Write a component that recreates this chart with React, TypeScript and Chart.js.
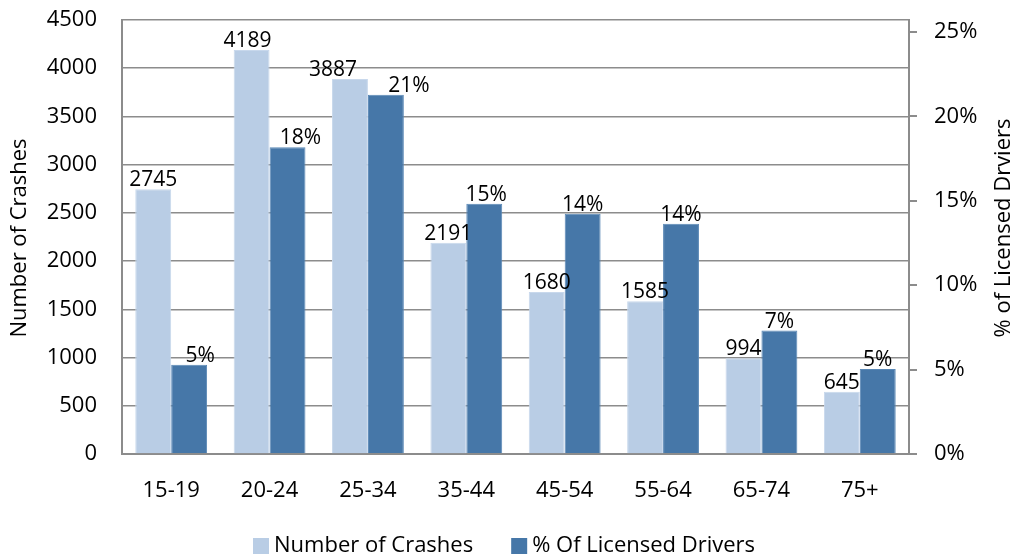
import React, { useEffect, useRef } from "react";
import { Chart, registerables } from "chart.js";

Chart.register(...registerables);

const categories = ["15-19", "20-24", "25-34", "35-44", "45-54", "55-64", "65-74", "75+"];
const crashes = [2745, 4189, 3887, 2191, 1680, 1585, 994, 645];
const licensedPct = [5.28, 18.16, 21.28, 14.82, 14.23, 13.63, 7.31, 5.04];
const leftTicks = [0, 500, 1000, 1500, 2000, 2500, 3000, 3500, 4000, 4500];
const rightTicks = [0, 5, 10, 15, 20, 25];
const seriesNames = ["Number of Crashes", "% Of Licensed Drivers"];
const seriesColors = ["#b9cde5", "#4677a8"];

// horizontal nudges for a few value labels (as placed in the original)
const LABEL_NUDGE = [
  [0, -4, -17, 0, 0, 0, 0, 0],
  [11, 13, 23, 2, 0, 0, 0, 0],
];

const FONT = "'Open Sans', sans-serif";
const GRID = "#8c8c8c";

const labelsPlugin = {
  id: "barLabels",
  afterDatasetsDraw(chart: any) {
    const ctx = chart.ctx;
    ctx.save();
    ctx.font = `21px ${FONT}`;
    ctx.fillStyle = "#000";
    ctx.textAlign = "center";
    ctx.textBaseline = "alphabetic";
    chart.data.datasets.forEach((ds: any, di: number) => {
      const meta = chart.getDatasetMeta(di);
      meta.data.forEach((el: any, i: number) => {
        const v = ds.data[i];
        const txt = di === 0 ? String(v) : `${Math.round(v)}%`;
        ctx.fillText(txt, el.x + LABEL_NUDGE[di][i], el.y - 3);
      });
    });
    ctx.restore();
  },
};

const titlesPlugin = {
  id: "axisTitles",
  afterDraw(chart: any) {
    const ctx = chart.ctx;
    const drawRot = (text: string, x: number, y: number) => {
      ctx.save();
      ctx.font = `22px ${FONT}`;
      ctx.fillStyle = "#000";
      ctx.textAlign = "center";
      ctx.textBaseline = "middle";
      ctx.translate(x, y);
      ctx.rotate(-Math.PI / 2);
      ctx.fillText(text, 0, 0);
      ctx.restore();
    };
    drawRot("Number of Crashes", 20, 238);
    drawRot("% of Licensed Drviers", 1004, 228);

    // legend
    ctx.save();
    ctx.font = `22px ${FONT}`;
    ctx.textBaseline = "middle";
    ctx.textAlign = "left";
    let x = 253;
    const cy = 546;
    seriesNames.forEach((name, i) => {
      ctx.fillStyle = seriesColors[i];
      ctx.fillRect(x, cy - 8, 16, 16);
      ctx.fillStyle = "#000";
      ctx.fillText(name, x + 21, cy);
      x += 21 + ctx.measureText(name).width + 38;
    });
    ctx.restore();
  },
};

export default function App() {
  const ref = useRef<HTMLCanvasElement>(null);
  useEffect(() => {
    document.body.style.margin = "0";
    const chart = new Chart(ref.current as HTMLCanvasElement, {
      type: "bar",
      data: {
        labels: categories,
        datasets: [
          {
            label: seriesNames[0],
            data: crashes,
            backgroundColor: seriesColors[0],
            borderColor: "#c8d8ec",
            borderWidth: 1,
            yAxisID: "y",
            categoryPercentage: 0.73,
            barPercentage: 1,
          },
          {
            label: seriesNames[1],
            data: licensedPct,
            backgroundColor: seriesColors[1],
            borderColor: "#5a88b6",
            borderWidth: 1,
            yAxisID: "y1",
            categoryPercentage: 0.73,
            barPercentage: 1,
          },
        ],
      },
      options: {
        responsive: false,
        animation: false,
        devicePixelRatio: 1,
        layout: { padding: { top: 20, left: 0, right: 0, bottom: 0 } },
        plugins: {
          tooltip: { enabled: false },
          legend: { display: false },
        },
        scales: {
          x: {
            grid: { display: false, drawTicks: false },
            border: { display: true, color: GRID, width: 2 },
            ticks: { color: "#000", font: { family: FONT, size: 22 }, padding: 24 },
            afterFit(scale: any) {
              scale.height = 102;
              scale.paddingLeft = 0;
              scale.paddingRight = 0;
            },
          },
          y: {
            position: "left",
            min: 0,
            max: 4500,
            afterBuildTicks(scale: any) {
              scale.ticks = leftTicks.map((v) => ({ value: v }));
            },
            grid: { color: GRID, lineWidth: 1.5, drawTicks: false },
            border: { color: GRID, width: 2 },
            ticks: {
              color: "#000",
              font: { family: FONT, size: 22 },
              padding: 25,
              callback: (v: any) => String(v),
            },
            afterFit(scale: any) {
              scale.width = 122;
              scale.paddingTop = 0;
              scale.paddingBottom = 0;
            },
          },
          y1: {
            position: "right",
            min: 0,
            max: 25.7,
            afterBuildTicks(scale: any) {
              scale.ticks = rightTicks.map((v) => ({ value: v }));
            },
            grid: { drawOnChartArea: false, color: GRID, lineWidth: 2, tickLength: 8 },
            border: { color: GRID, width: 2 },
            ticks: {
              color: "#000",
              font: { family: FONT, size: 22 },
              padding: 17,
              callback: (v: any) => `${v}%`,
            },
            afterFit(scale: any) {
              scale.width = 107;
              scale.paddingTop = 0;
              scale.paddingBottom = 0;
            },
          },
        },
      },
      plugins: [labelsPlugin, titlesPlugin],
    } as any);
    return () => chart.destroy();
  }, []);
  return <canvas ref={ref} width={1016} height={556} style={{ display: "block" }} />;
}
